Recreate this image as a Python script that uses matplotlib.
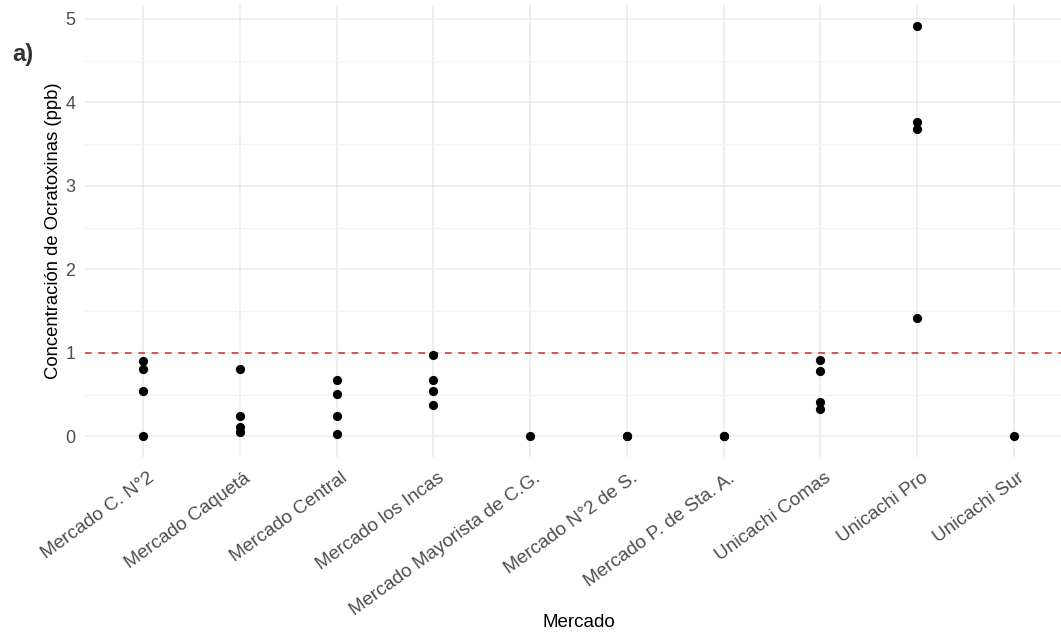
import numpy
from matplotlib import pyplot
from matplotlib.transforms import ScaledTranslation

# Data.
Markets = ['Mercado C. N°2', 'Mercado Caquetá', 'Mercado Central', 'Mercado los Incas',
           'Mercado Mayorista de C.G.', 'Mercado N°2 de S.', 'Mercado P. de Sta. A.',
           'Unicachi Comas', 'Unicachi Pro', 'Unicachi Sur']
Values = [
  [0.90, 0.81, 0.55, 0.01],
  [0.81, 0.25, 0.11, 0.05],
  [0.67, 0.51, 0.24, 0.03],
  [0.98, 0.67, 0.55, 0.38],
  [0.0],
  [0.0, 0.0],
  [0.0, 0.0],
  [0.91, 0.78, 0.41, 0.33],
  [4.92, 3.77, 3.68, 1.42],
  [0.0],
]
Limit = 1.0

pyplot.rcParams['font.family'] = ['Liberation Sans', 'DejaVu Sans']

W, H = 1061., 640.
fig = pyplot.figure(figsize=(W / 100, H / 100), dpi=100)
# panel: x from 85px to 1072px (cropped on the right), y from 5px to 457px
ax = fig.add_axes([85 / W, 1 - 457 / H, (1072 - 85) / W, (457 - 5) / H])

xs = []
ys = []
for i, vals in enumerate(Values):
  xs += [i] * len(vals)
  ys += vals
ax.scatter(xs, ys, s=44, color='black', zorder=3, linewidths=0)
ax.axhline(Limit, color='#D33A3A', linestyle=(0, (4, 4)), linewidth=1.2, zorder=2)

ymax = max(ys)
pad = 0.05 * ymax
ax.set_ylim(-pad, ymax + pad)
ax.set_xlim(-0.6, len(Markets) - 0.4)

ax.set_xticks(numpy.arange(len(Markets)))
ax.set_xticklabels(Markets, rotation=36, ha='right', va='top', rotation_mode='anchor')
ax.set_yticks(numpy.arange(0, 6))
ax.set_yticks(numpy.arange(0.5, 5.5, 1), minor=True)
ax.tick_params(axis='both', which='both', length=0, labelcolor='#4D4D4D')
ax.tick_params(axis='x', pad=9, labelsize=13.7)
ax.tick_params(axis='y', pad=7, labelsize=13)
shift = ScaledTranslation(0.04, 0, fig.dpi_scale_trans)
for lab in ax.get_xticklabels():
  lab.set_transform(lab.get_transform() + shift)

ax.grid(which='major', color='#EBEBEB', linewidth=1.1, zorder=0)
ax.yaxis.grid(which='minor', color='#F3F3F3', linewidth=0.8, zorder=0)
for s in ax.spines.values():
  s.set_visible(False)
ax.set_axisbelow(True)

ax.set_xlabel('Mercado', fontsize=13.5)
ax.xaxis.set_label_coords(0.5, -0.347)
ax.set_ylabel('Concentración de Ocratoxinas (ppb)', fontsize=13.3)
ax.yaxis.set_label_coords(-0.023, 0.5)
fig.text(12 / W, 1 - 55 / H, 'a)', fontsize=17, fontweight='bold', color='#333333', va='center')

fig.savefig('out.png', dpi=100)
